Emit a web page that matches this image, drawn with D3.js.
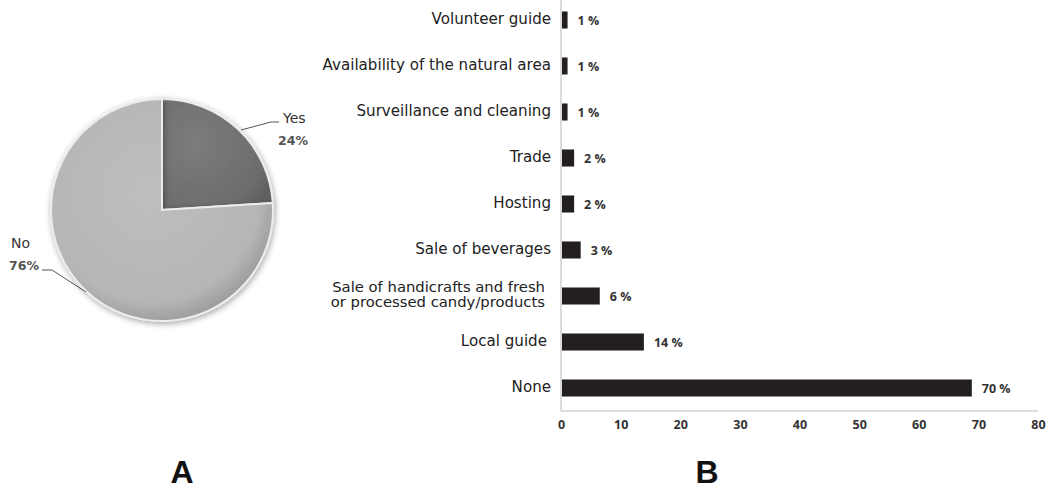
<!DOCTYPE html>
<html>
<head>
<meta charset="utf-8">
<script src="https://cdn.jsdelivr.net/npm/d3@7"></script>
<style>
  body { margin: 0; background: #fff; }
  svg { display: block; }
</style>
</head>
<body>
<div id="chart"></div>
<script>
// Panel A data
var pieLabels = ["Yes", "No"]
var pieValues = [24, 76]

// Panel B data (top to bottom)
var categories = [
    "Volunteer guide",
    "Availability of the natural area",
    "Surveillance and cleaning",
    "Trade",
    "Hosting",
    "Sale of beverages",
    "Sale of handicrafts and fresh|or processed candy/products",
    "Local guide",
    "None"
]
var barValues = [1.1, 1.1, 1.1, 2.2, 2.2, 3.3, 6.5, 13.9, 68.9]
var barLabels = ["1 %", "1 %", "1 %", "2 %", "2 %", "3 %", "6 %", "14 %", "70 %"]
var xTicks = [0, 10, 20, 30, 40, 50, 60, 70, 80]

var width = 1046
var height = 490

var svg = d3.select("#chart")
    .append("svg")
    .attr("width", width)
    .attr("height", height)

var defs = svg.append("defs")

var gYes = defs.append("radialGradient").attr("id", "gYes")
    .attr("cx", "30%").attr("cy", "40%").attr("r", "80%")
gYes.append("stop").attr("offset", "0%").attr("stop-color", "#7c7c7c")
gYes.append("stop").attr("offset", "80%").attr("stop-color", "#6c6c6c")
gYes.append("stop").attr("offset", "100%").attr("stop-color", "#5e5e5e")

var gNo = defs.append("radialGradient").attr("id", "gNo")
    .attr("cx", "45%").attr("cy", "42%").attr("r", "60%")
gNo.append("stop").attr("offset", "0%").attr("stop-color", "#bebebe")
gNo.append("stop").attr("offset", "82%").attr("stop-color", "#b6b6b6")
gNo.append("stop").attr("offset", "100%").attr("stop-color", "#9a9a9a")

var shadow = defs.append("filter").attr("id", "shadow")
    .attr("x", "-20%").attr("y", "-20%").attr("width", "140%").attr("height", "140%")
shadow.append("feGaussianBlur").attr("in", "SourceAlpha").attr("stdDeviation", 3)
shadow.append("feOffset").attr("dx", 1).attr("dy", 2).attr("result", "ob")
shadow.append("feComponentTransfer").append("feFuncA").attr("type", "linear").attr("slope", 0.35)
var merge = shadow.append("feMerge")
merge.append("feMergeNode")
merge.append("feMergeNode").attr("in", "SourceGraphic")

// ---------- Panel A: pie ----------
var cx = 162, cy = 210, radius = 111

var pie = d3.pie().sort(null).value(function (d) { return d })
var arcs = pie(pieValues)
var arc = d3.arc().innerRadius(0).outerRadius(radius)

var pieG = svg.append("g")
    .attr("transform", "translate(" + cx + "," + cy + ")")

pieG.selectAll("path")
    .data(arcs)
    .enter()
    .append("path")
    .attr("d", arc)
    .attr("fill", function (d, i) { return i == 0 ? "url(#gYes)" : "url(#gNo)" })
    .attr("stroke", "#ececec")
    .attr("stroke-width", 2)
    .attr("filter", "url(#shadow)")

// leader lines and labels
var leaders = [
    [[241 - cx, 130 - cy], [271 - cx, 122 - cy], [279 - cx, 122 - cy]],
    [[86 - cx, 292 - cy], [52 - cx, 270 - cy], [42 - cx, 270 - cy]]
]
pieG.selectAll("polyline")
    .data(leaders)
    .enter()
    .append("polyline")
    .attr("points", function (d) { return d.map(function (p) { return p.join(",") }).join(" ") })
    .attr("fill", "none")
    .attr("stroke", "#555")
    .attr("stroke-width", 1)

var pieText = [
    { x: 283, y: 123, name: pieLabels[0], pct: pieValues[0] + "%", pctX: 278 },
    { x: 11, y: 248, name: pieLabels[1], pct: pieValues[1] + "%", pctX: 9 }
]
pieText.forEach(function (t) {
    svg.append("text")
        .attr("x", t.x).attr("y", t.y)
        .attr("font-family", "DejaVu Sans, Verdana, sans-serif")
        .attr("font-size", 14)
        .attr("fill", "#333")
        .text(t.name)
    svg.append("text")
        .attr("x", t.pctX).attr("y", t.y + 22)
        .attr("font-family", "DejaVu Sans, Verdana, sans-serif")
        .attr("font-weight", "bold")
        .attr("font-size", 12.5)
        .attr("fill", "#555")
        .text(t.pct)
})

// ---------- Panel B: bars ----------
var x0 = 561, x1 = 1038, axisY = 411

var scaleX = d3.scaleLinear()
    .domain([0, 80])
    .range([x0, x1])

var scaleY = d3.scaleBand()
    .domain(categories)
    .range([-3, axisY])
    .paddingInner(0.63)
    .paddingOuter(0.315)

var barG = svg.append("g")

barG.selectAll("rect")
    .data(barValues)
    .enter()
    .append("rect")
    .attr("x", scaleX(0) + 1)
    .attr("y", function (d, i) { return scaleY(categories[i]) })
    .attr("width", function (d) { return scaleX(d) - scaleX(0) - 1 })
    .attr("height", scaleY.bandwidth())
    .attr("fill", "#231f20")

barG.selectAll(".val")
    .data(barValues)
    .enter()
    .append("text")
    .attr("class", "val")
    .attr("x", function (d) { return scaleX(d) + 10 })
    .attr("y", function (d, i) { return scaleY(categories[i]) + scaleY.bandwidth() / 2 + 5 })
    .attr("font-family", "Open Sans, sans-serif")
    .attr("font-weight", "bold")
    .attr("font-size", 12.5)
    .attr("fill", "#333")
    .text(function (d, i) { return barLabels[i] })

// category labels
barG.selectAll(".cat")
    .data(categories)
    .enter()
    .append("text")
    .attr("class", "cat")
    .attr("text-anchor", "end")
    .attr("font-family", "DejaVu Sans, Verdana, sans-serif")
    .attr("fill", "#222")
    .each(function (d) {
        var lines = d.split("|")
        var yc = scaleY(d) + scaleY.bandwidth() / 2
        var t = d3.select(this)
        if (lines.length == 1) {
            t.attr("x", d == "Local guide" ? 547 : 551)
                .attr("y", yc + 3.5)
                .attr("font-size", 15.1)
                .text(d)
        } else {
            t.attr("font-size", 14.8)
            lines.forEach(function (l, k) {
                t.append("tspan")
                    .attr("x", 545)
                    .attr("y", yc - 4.5 + k * 15.5)
                    .text(l)
            })
        }
    })

// axes lines
svg.append("line")
    .attr("x1", x0).attr("x2", x0)
    .attr("y1", 0).attr("y2", axisY)
    .attr("stroke", "#b8b8b8").attr("stroke-width", 1)
svg.append("line")
    .attr("x1", x0).attr("x2", x1)
    .attr("y1", axisY).attr("y2", axisY)
    .attr("stroke", "#d0d0d0").attr("stroke-width", 1.5)

var axis = d3.axisBottom(scaleX)
    .tickValues(xTicks)
    .tickSize(0)
    .tickPadding(9)

var axisG = svg.append("g")
    .attr("transform", "translate(0," + axisY + ")")
    .call(axis)
axisG.select(".domain").remove()
axisG.selectAll("text")
    .attr("font-family", "Open Sans, sans-serif")
    .attr("font-weight", "bold")
    .attr("font-size", 12.5)
    .attr("fill", "#333")

// panel letters
svg.append("text")
    .attr("x", 182).attr("y", 483)
    .attr("text-anchor", "middle")
    .attr("font-family", "Liberation Sans, Arial, sans-serif")
    .attr("font-weight", "bold")
    .attr("font-size", 32)
    .attr("fill", "#111")
    .text("A")
svg.append("text")
    .attr("x", 707).attr("y", 483)
    .attr("text-anchor", "middle")
    .attr("font-family", "Liberation Sans, Arial, sans-serif")
    .attr("font-weight", "bold")
    .attr("font-size", 32)
    .attr("fill", "#111")
    .text("B")
</script>
</body>
</html>
